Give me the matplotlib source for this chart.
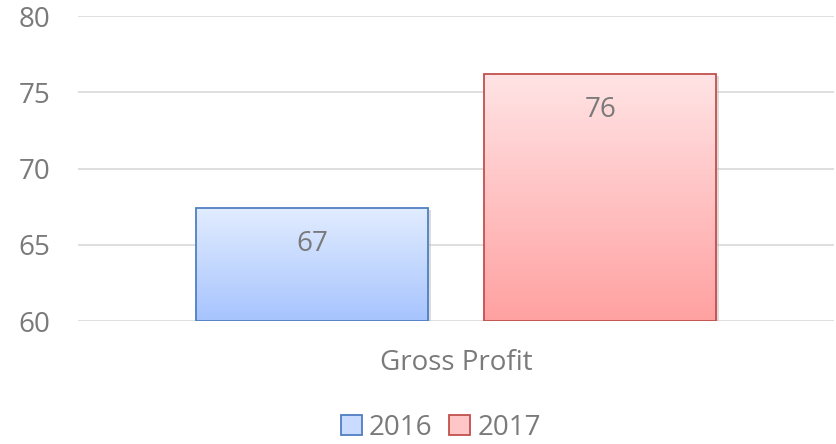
import numpy as np
import matplotlib
matplotlib.use("Agg")
import matplotlib.pyplot as plt
from matplotlib.patches import Patch
from matplotlib.colors import LinearSegmentedColormap

categories = ["Gross Profit"]
series_names = ["2016", "2017"]
values_2016 = [67.4]
values_2017 = [76.2]
labels_2016 = ["67"]
labels_2017 = ["76"]
yticks = [60, 65, 70, 75, 80]

plt.rcParams['font.family'] = ['Open Sans', 'DejaVu Sans']
TXT = "#7A7A7A"
FS = 20

fig = plt.figure(figsize=(8.36, 4.44), dpi=100)
ax = fig.add_axes([78/836, 1 - 321/444, 756/836, (321-16)/444])
ax.set_xlim(-0.5, 0.5)
ax.set_ylim(60, 80)

x = np.arange(len(categories))
width = 0.307
offsets = [-0.19, 0.191]
styles = [
    dict(top="#E1ECFF", bot="#A7C4FE", edge="#4F7FC0", leg="#C9DBFF"),
    dict(top="#FFE4E5", bot="#FFA1A1", edge="#C0504D", leg="#FFC6C7"),
]
all_vals = [values_2016, values_2017]
all_labels = [labels_2016, labels_2017]

for vals, labs, off, st in zip(all_vals, all_labels, offsets, styles):
    bars = ax.bar(x + off, np.array(vals) - 60, width, bottom=60,
                  facecolor="none", edgecolor=st["edge"], linewidth=1.3, zorder=3)
    cmap = LinearSegmentedColormap.from_list("g", [st["bot"], st["top"]])
    for b, lab in zip(bars, labs):
        x0, y0 = b.get_x(), b.get_y()
        w, h = b.get_width(), b.get_height()
        ax.add_patch(plt.Rectangle((x0 + 0.003, y0 - 0.12), w, h, facecolor="#bbbbbb",
                                   edgecolor="none", alpha=0.5, zorder=1.5))
        grad = np.linspace(0, 1, 256).reshape(-1, 1)
        im = ax.imshow(grad, cmap=cmap, aspect="auto", origin="lower",
                       extent=[x0, x0 + w, y0, y0 + h], zorder=2)
        im.set_clip_path(b)
        ax.text(x0 + w / 2, y0 + h - 2.35, lab,
                ha="center", va="center", fontsize=FS, color=TXT, zorder=4)

ax.set_xlim(-0.5, 0.5)
ax.set_ylim(60, 80)
ax.set_yticks(yticks)
ax.set_yticklabels([str(t) for t in yticks], fontsize=FS, color=TXT)
ax.set_xticks(x)
ax.set_xticklabels(categories, fontsize=FS, color=TXT)
ax.tick_params(axis="y", length=0, pad=20)
ax.tick_params(axis="x", length=0, pad=20)
ax.grid(axis="y", color="#D9D9D9", linewidth=1.2, zorder=0)
ax.set_axisbelow(True)
for s in ax.spines.values():
    s.set_visible(False)

handles = [Patch(facecolor=st["leg"], edgecolor=st["edge"], linewidth=1.3, label=n)
           for st, n in zip(styles, series_names)]
fig.legend(handles=handles, loc="center", bbox_to_anchor=(441/836, 1 - 428/444),
           ncol=2, frameon=False, fontsize=FS, handlelength=0.75, handleheight=0.75,
           handletextpad=0.25, columnspacing=0.6, labelcolor=TXT)

fig.savefig("out.png", dpi=100)
